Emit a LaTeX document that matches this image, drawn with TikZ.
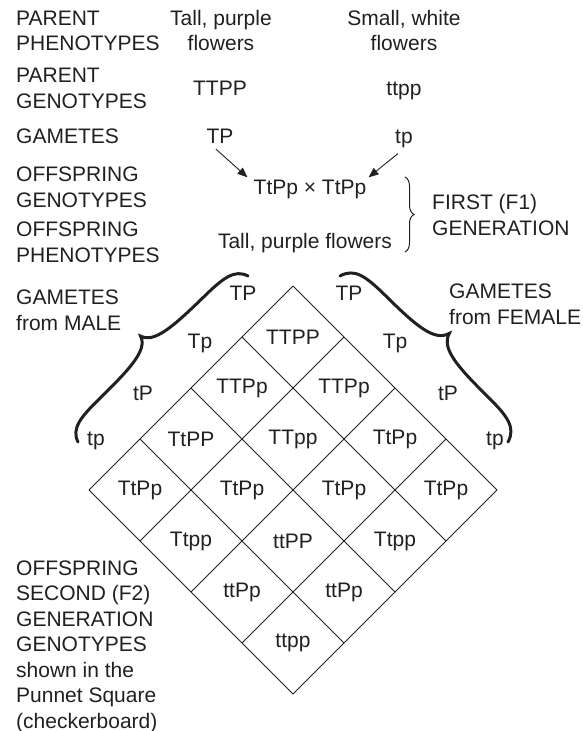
\documentclass[tikz,border=0pt]{standalone}
\usepackage{fontspec}
\setmainfont{Liberation Sans}
\definecolor{inkBlack}{RGB}{35, 31, 32}
\usepackage{tikz}
\usetikzlibrary{arrows.meta, decorations.pathreplacing}

\begin{document}
\begin{tikzpicture}[x=1pt, y=-1pt,
  lab/.style={font=\fontsize{21}{25.5}\selectfont, text=inkBlack,
              inner sep=0pt, align=left, anchor=base west},
  mid/.style={font=\fontsize{21}{25.5}\selectfont, text=inkBlack,
              inner sep=0pt, align=center, anchor=base},
  cell/.style={font=\fontsize{21}{25.5}\selectfont, text=inkBlack, inner sep=0pt},
  arrow/.style={-{Triangle[length=10pt, width=8pt]}, draw=inkBlack, line width=0.9pt},
  grid/.style={draw=inkBlack, line width=0.9pt},
  bigbrace/.style={draw=inkBlack, line width=3pt, line cap=round},
  smallbrace/.style={decorate, decoration={brace, amplitude=9pt},
                     draw=inkBlack, line width=1pt},
]
  \useasboundingbox (0,0) rectangle (583,731);

  % row titles (placed by the baseline of their last line)
  \node[lab] (parpheno) at (16,50.5) {PARENT\\PHENOTYPES};
  \node[lab] (pargeno) at (16,108) {PARENT\\GENOTYPES};
  \node[lab] (gamlab) at (16,143) {GAMETES};
  \node[lab] (offgeno) at (16,207) {OFFSPRING\\GENOTYPES};
  \node[lab] (offpheno) at (16,262) {OFFSPRING\\PHENOTYPES};
  \node[lab] (malelab) at (16,330) {GAMETES\\from MALE};
  \node[lab] (femlab) at (449,324) {GAMETES\\from FEMALE};
  \node[lab] (fonelab) at (432,235) {FIRST (F1)\\GENERATION};
  \node[lab] (ftwolab) at (16,728) {OFFSPRING\\SECOND (F2)\\GENERATION\\GENOTYPES\\shown in the\\Punnet Square\\(checkerboard)};

  % parents
  \node[mid] (tallpar) at (221,50.5) {Tall, purple\\flowers};
  \node[mid] (smallpar) at (404,50.5) {Small, white\\flowers};
  \node[mid] (ttppbig) at (220,95) {TTPP};
  \node[mid] (ttppsmall) at (404,95) {ttpp};
  \node[mid] (gmale) at (220,143) {TP};
  \node[mid] (gfem) at (404,143) {tp};
  \node[mid] (cross) at (310,194) {TtPp × TtPp};
  \node[mid] (fonepheno) at (305,248) {Tall, purple flowers};

  \draw[arrow] ([xshift=-4pt,yshift=-6pt]gmale.south) -- ([xshift=-6pt,yshift=2pt]cross.north west);
  \draw[arrow] ([xshift=-6pt,yshift=-6pt]gfem.south) -- ([xshift=2pt,yshift=2pt]cross.north east);

  \draw[smallbrace] (405,177) -- (405,252);

  % punnet square
  \foreach \k in {0,...,4} {
    \draw[grid] ({293-51*\k},{286+51*\k}) -- ++(204,204);
    \draw[grid] ({293+51*\k},{286+51*\k}) -- ++(-204,204);
  }
  \foreach \i/\j/\gt in {0/0/TTPP, 1/0/TTPp, 0/1/TTPp, 2/0/TtPP, 1/1/TTpp, 0/2/TtPp,
                         3/0/TtPp, 2/1/TtPp, 1/2/TtPp, 0/3/TtPp, 3/1/Ttpp, 2/2/ttPP,
                         1/3/Ttpp, 3/2/ttPp, 2/3/ttPp, 3/3/ttpp}
    \node[cell] (c\i\j) at ({293+51*(\j-\i)},{337+51*(\i+\j)}) {\gt};

  % gametes along the edges
  \node[cell] (m0) at (243,293) {TP};
  \node[cell] (m1) at (200,343) {Tp};
  \node[cell] (m2) at (143,393) {tP};
  \node[cell] (m3) at (96,441) {tp};
  \node[cell] (f0) at (349,293) {TP};
  \node[cell] (f1) at (395,343) {Tp};
  \node[cell] (f2) at (448,393) {tP};
  \node[cell] (f3) at (495,441) {tp};

  % braces round the gametes
  \draw[bigbrace] (78,442) .. controls (71.3,428.4) and (80.4,417.3) .. (100.8,397.4)
    .. controls (131.4,367.5) and (147.3,349.7) .. (140.6,336.1)
    .. controls (154.1,343.1) and (172.2,327.6) .. (202.8,297.8)
    .. controls (223.2,277.8) and (234.5,269.0) .. (248,276);
  \draw[bigbrace] (340,276) .. controls (354.8,267.8) and (366.1,276.5) .. (386.3,296.4)
    .. controls (416.5,326.3) and (434.6,341.6) .. (449.3,333.4)
    .. controls (441.3,348.2) and (456.8,366.1) .. (487.1,396.0)
    .. controls (507.2,415.9) and (516.0,427.2) .. (508,442);
\end{tikzpicture}
\end{document}
